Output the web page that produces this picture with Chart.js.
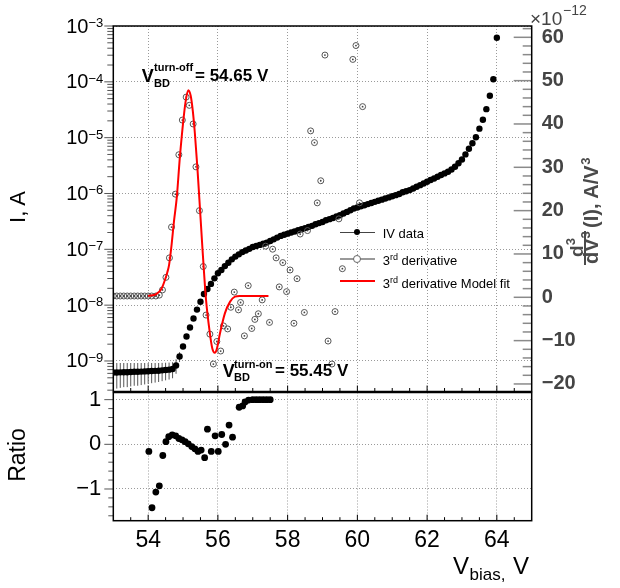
<!DOCTYPE html>
<html><head><meta charset="utf-8">
<script src="https://cdn.jsdelivr.net/npm/chart.js@4.4.1/dist/chart.umd.min.js"></script>
<style>
html,body{margin:0;padding:0;background:#fff;}
#wrap{position:relative;width:620px;height:588px;overflow:hidden;font-family:"Liberation Sans",Arial,sans-serif;color:#000;}
canvas{position:absolute;left:0;top:0;}
.t{position:absolute;white-space:nowrap;line-height:1;}
.b{font-weight:bold;}
.ln{position:absolute;}
</style></head><body>
<div id="wrap">
<canvas id="topc" width="620" height="588"></canvas>
<canvas id="botc" width="620" height="588"></canvas>

<!-- annotations -->
<div class="t b" style="left:141.7px;top:66.5px;font-size:18px">V</div>
<div class="t b" style="left:154px;top:62.4px;font-size:11px">turn-off</div>
<div class="t b" style="left:154px;top:78px;font-size:11px">BD</div>
<div class="t b" style="left:195px;top:67.3px;font-size:17px">= 54.65 V</div>

<div class="t b" style="left:222.7px;top:361.5px;font-size:18px">V</div>
<div class="t b" style="left:234px;top:358.7px;font-size:11px">turn-on</div>
<div class="t b" style="left:234px;top:372.4px;font-size:11px">BD</div>
<div class="t b" style="left:275px;top:362.3px;font-size:17px">= 55.45 V</div>

<!-- legend -->
<div class="ln" style="left:340px;top:231.5px;width:35px;height:1.5px;background:#444"></div>
<div class="ln" style="left:354.1px;top:229.1px;width:6.4px;height:6.4px;border-radius:50%;background:#000"></div>
<div class="t" style="left:382.7px;top:226.7px;font-size:13px">IV data</div>
<div class="ln" style="left:340px;top:258.3px;width:35px;height:1.5px;background:#999"></div>
<div class="ln" style="left:353.3px;top:255px;width:6px;height:6px;border:1px solid #666;border-radius:50%;background:#fff"></div>
<div class="t" style="left:382.7px;top:254px;font-size:13px">3<span style="font-size:9px;position:relative;top:-5px">rd</span> derivative</div>
<div class="ln" style="left:340px;top:280px;width:35px;height:2px;background:#f00"></div>
<div class="t" style="left:382.7px;top:277px;font-size:13px">3<span style="font-size:9px;position:relative;top:-5px">rd</span> derivative Model fit</div>

<!-- axis titles -->
<div class="t" style="left:-32px;top:194px;width:100px;height:26px;line-height:26px;text-align:center;font-size:22px;transform:rotate(-90deg)">I, A</div>
<div class="t" style="left:-33px;top:442px;width:100px;height:26px;line-height:26px;text-align:center;font-size:23px;transform:rotate(-90deg)">Ratio</div>
<div class="t" style="left:453px;top:554px;font-size:24px">V</div>
<div class="t" style="left:469.5px;top:565.6px;font-size:17px">bias,</div>
<div class="t" style="left:513px;top:554px;font-size:24px">V</div>

<div class="t" style="left:530px;top:8.9px;font-size:19px;color:#444">×10</div>
<div class="t" style="left:563px;top:3.4px;font-size:14px;color:#444">−12</div>

<div style="position:absolute;left:560px;top:265px;width:0;height:0;transform:rotate(-90deg);transform-origin:0 0;color:#4a4a4a;font-weight:bold;">
  <span class="t" style="left:8px;top:7px;font-size:19px">d</span>
  <span class="t" style="left:19.7px;top:4px;font-size:13px">3</span>
  <span class="ln" style="left:0px;top:24.2px;width:34px;height:1.8px;background:#4a4a4a"></span>
  <span class="t" style="left:1px;top:21.1px;font-size:20px">dV</span>
  <span class="t" style="left:26.6px;top:19px;font-size:13px">3</span>
  <span class="t" style="left:37px;top:21.1px;font-size:20px">(I), A/V</span>
  <span class="t" style="left:100.3px;top:19px;font-size:13px">3</span>
</div>
</div>

<script>
// ---------------- data ----------------
const ivV = [53.0,53.1,53.2,53.3,53.4,53.5,53.6,53.7,53.8,53.9,
  54.0,54.1,54.2,54.3,54.4,54.5,54.6,54.7,54.8,54.9,
  55.0,55.1,55.2,55.3,55.4,55.5,55.6,55.7,55.8,55.9,
  56.0,56.1,56.2,56.3,56.4,56.5,56.6,56.7,56.8,56.9,
  57.0,57.1,57.2,57.3,57.4,57.5,57.6,57.7,57.8,57.9,
  58.0,58.1,58.2,58.3,58.4,58.5,58.6,58.7,58.8,58.9,
  59.0,59.1,59.2,59.3,59.4,59.5,59.6,59.7,59.8,59.9,
  60.0,60.1,60.2,60.3,60.4,60.5,60.6,60.7,60.8,60.9,
  61.0,61.1,61.2,61.3,61.4,61.5,61.6,61.7,61.8,61.9,
  62.0,62.1,62.2,62.3,62.4,62.5,62.6,62.7,62.8,62.9,
  63.0,63.1,63.2,63.3,63.4,63.5,63.6,63.7,63.8,63.9,64.0];
const ivI = [6.20e-10,6.20e-10,6.25e-10,6.30e-10,6.30e-10,6.35e-10,6.40e-10,6.40e-10,6.45e-10,6.50e-10,
  6.55e-10,6.60e-10,6.65e-10,6.70e-10,6.80e-10,6.90e-10,7.00e-10,7.20e-10,8.30e-10,1.20e-9,
  1.82e-9,2.75e-9,3.98e-9,5.75e-9,8.32e-9,1.15e-8,1.58e-8,1.95e-8,2.40e-8,3.02e-8,
  3.72e-8,4.27e-8,5.01e-8,5.75e-8,6.61e-8,7.41e-8,8.13e-8,8.91e-8,9.55e-8,1.02e-7,
  1.10e-7,1.15e-7,1.20e-7,1.26e-7,1.32e-7,1.41e-7,1.51e-7,1.62e-7,1.74e-7,1.82e-7,
  1.91e-7,2.00e-7,2.09e-7,2.19e-7,2.29e-7,2.40e-7,2.51e-7,2.63e-7,2.82e-7,2.95e-7,
  3.09e-7,3.31e-7,3.47e-7,3.63e-7,3.89e-7,4.07e-7,4.37e-7,4.68e-7,5.01e-7,5.37e-7,
  5.62e-7,5.89e-7,6.17e-7,6.46e-7,6.76e-7,7.08e-7,7.41e-7,7.76e-7,8.13e-7,8.51e-7,
  8.91e-7,9.33e-7,9.77e-7,1.05e-6,1.10e-6,1.15e-6,1.23e-6,1.32e-6,1.41e-6,1.51e-6,
  1.62e-6,1.74e-6,1.86e-6,2.00e-6,2.14e-6,2.29e-6,2.45e-6,2.69e-6,3.02e-6,3.47e-6,
  4.07e-6,5.01e-6,6.31e-6,7.94e-6,1.02e-5,1.45e-5,2.09e-5,3.24e-5,5.62e-5,1.11e-4,6.17e-4];
const ivErr = [3.0e-10,3.0e-10,2.95e-10,2.9e-10,2.9e-10,2.85e-10,2.8e-10,2.8e-10,2.75e-10,2.7e-10,
  2.65e-10,2.6e-10,2.55e-10,2.5e-10,2.45e-10,2.4e-10,2.35e-10,2.3e-10,2.4e-10,2.4e-10];

const d3V = [53.0,53.1,53.2,53.3,53.4,53.5,53.6,53.7,53.8,53.9,54.0,54.1,
  54.22,54.32,54.41,54.51,54.61,54.67,54.78,54.88,54.98,55.09,
  55.18,55.29,55.37,55.47,55.58,55.66,55.77,55.87,55.97,56.08,
  56.16,56.28,56.37,56.47,56.59,56.65,56.76,56.87,56.97,57.06,
  57.16,57.27,57.37,57.48,57.57,57.67,57.76,57.86,57.97,58.07,
  58.18,58.27,58.36,58.48,58.57,58.66,58.77,58.85,58.95,59.07,
  59.16,59.27,59.36,59.47,59.57,59.87,59.96,60.06,60.15];
const d3Val = [0.3,0.3,0.3,0.3,0.3,0.3,0.3,0.3,0.3,0.3,0.3,0.3,
  0.3,0.5,1.7,4.6,9.1,16.2,23.8,32.9,40.9,46.2,
  44.3,40.0,30.1,20.0,7.1,-4.1,-8.5,-15.4,-10.2,-12.4,
  -6.6,-7.3,-2.3,1.2,-2.9,-1.2,-8.9,2.7,-7.2,-5.1,
  -3.8,-0.6,11.8,-5.8,11.1,9.1,2.4,8.0,1.3,6.3,
  -6.0,4.3,14.6,-3.5,15.4,38.4,35.7,21.8,26.9,55.9,
  -10.1,-15.4,-3.3,18.1,6.6,54.9,58.1,21.8,44.0];

const fitV = [54.00,54.24,54.39,54.48,54.55,54.60,54.67,54.74,54.82,54.91,55.01,55.08,55.15,55.22,55.28,55.34,55.41,55.47,55.56,55.66,55.77,55.84,55.91,55.97,56.06,56.20,56.35,56.49,56.63,57.45];
const fitVal = [0.3,0.8,2.1,4.0,5.8,7.5,12.0,17.5,23.0,32.4,40.9,45.5,47.8,46.5,43.0,37.8,30.1,22.5,10.9,-0.6,-8.3,-11.8,-12.8,-11.9,-8.3,-3.7,-1.0,0.15,0.3,0.3];

const ratioV = [54.02,54.11,54.22,54.32,54.42,54.51,54.59,54.69,54.79,54.88,54.97,55.06,55.15,55.25,55.34,55.43,55.52,55.62,55.70,55.81,55.92,56.01,56.11,56.22,56.32,56.42,56.61,56.71,56.78,56.88,57.0,57.1,57.2,57.3,57.4,57.5];
const ratioVal = [-0.16,-1.42,-1.07,-0.93,-0.25,0.06,0.17,0.21,0.19,0.13,0.10,0.06,0.01,-0.05,-0.10,-0.16,-0.13,-0.30,0.34,-0.16,0.19,-0.16,0.22,0.0,0.43,0.16,0.83,0.86,0.95,0.99,1.0,1.0,1.0,1.0,1.0,1.0];

// tick values / labels
const xMajorTicks = [54,56,58,60,62,64];
const xMinorTicks = [53.5,54.5,55,55.5,56.5,57,57.5,58.5,59,59.5,60.5,61,61.5,62.5,63,63.5,64.5];
const logExps = [-9,-8,-7,-6,-5,-4,-3];
const d3MajorTicks = [-20,-10,0,10,20,30,40,50,60];
const d3MinorTicks = [-18,-16,-14,-12,-8,-6,-4,-2,2,4,6,8,12,14,16,18,22,24,26,28,32,34,36,38,42,44,46,48,52,54,56,58,62];
const ratioMajorTicks = [-1,0,1];
const ratioMinorTicks = [-1.6,-1.4,-1.2,-0.8,-0.6,-0.4,-0.2,0.2,0.4,0.6,0.8];

// ---------------- helpers ----------------
const FONT = '"Liberation Sans", Arial, sans-serif';
Chart.defaults.font.family = FONT;
const GRID = '#9a9a9a';
const minus = v => (v < 0 ? '\u2212' + Math.abs(v) : String(v));
function seg(ctx,x1,y1,x2,y2){ctx.beginPath();ctx.moveTo(x1,y1);ctx.lineTo(x2,y2);ctx.stroke();}
function xy(xa, ya){ return xa.map((v,i)=>({x:v,y:ya[i]})); }
function setTicks(vals){ return s => { s.ticks = vals.map(v=>({value:v})); }; }

const topDecor = {
  id:'topDecor',
  beforeDatasetsDraw(chart){
    const ctx=chart.ctx, xs=chart.scales.x, ys=chart.scales.y, a=chart.chartArea;
    ctx.save();
    ctx.beginPath(); ctx.rect(a.left,a.top,a.right-a.left,a.bottom-a.top); ctx.clip();
    ctx.strokeStyle='#555'; ctx.lineWidth=1;
    ivErr.forEach((e,i)=>{
      const x=xs.getPixelForValue(ivV[i]);
      const hi=ys.getPixelForValue(ivI[i]+e);
      const lo=ys.getPixelForValue(Math.max(ivI[i]-e,1e-12));
      seg(ctx,x,hi,x,lo);
    });
    ctx.restore();
  },
  afterDraw(chart){
    const ctx=chart.ctx, xs=chart.scales.x, ys=chart.scales.y, y2=chart.scales.y2, a=chart.chartArea;
    ctx.save();
    ctx.strokeStyle='#000'; ctx.lineWidth=1;
    xMajorTicks.forEach(v=>{const x=xs.getPixelForValue(v); seg(ctx,x,a.bottom,x,a.bottom-6);});
    xMinorTicks.forEach(v=>{const x=xs.getPixelForValue(v); seg(ctx,x,a.bottom,x,a.bottom-3.5);});
    ctx.strokeStyle='#555';
    logExps.forEach(e=>{const y=ys.getPixelForValue(Math.pow(10,e)); seg(ctx,a.left-9,y,a.left,y);});
    for(let e=-10;e<=-4;e++){ for(let m=2;m<=9;m++){ const v=m*Math.pow(10,e); if(v<ys.min||v>ys.max) continue; const y=ys.getPixelForValue(v); seg(ctx,a.left-6,y,a.left,y);} }
    ctx.strokeStyle='#8a8a8a'; ctx.lineWidth=1.5;
    d3MajorTicks.forEach(v=>{const y=y2.getPixelForValue(v); seg(ctx,a.right-18,y,a.right,y);});
    d3MinorTicks.forEach(v=>{const y=y2.getPixelForValue(v); seg(ctx,a.right-9,y,a.right,y);});
    ctx.strokeStyle='#000'; ctx.lineWidth=1.5;
    ctx.strokeRect(a.left,a.top,a.right-a.left,a.bottom-a.top);
    const big='20px '+FONT, small='13px '+FONT;
    ctx.fillStyle='#000'; ctx.textAlign='left'; ctx.textBaseline='alphabetic';
    logExps.forEach(e=>{
      const y=ys.getPixelForValue(Math.pow(10,e));
      const es='\u2212'+Math.abs(e);
      ctx.font=small; const we=ctx.measureText(es).width;
      ctx.font=big; const wb=ctx.measureText('10').width;
      const xr=a.left-10;
      ctx.font=small; ctx.fillText(es,xr-we,y+1);
      ctx.font=big; ctx.fillText('10',xr-we-wb,y+6.5);
    });
    ctx.restore();
  }
};

const botDecor = {
  id:'botDecor',
  afterDraw(chart){
    const ctx=chart.ctx, xs=chart.scales.x, ys=chart.scales.y, a=chart.chartArea;
    ctx.save();
    ctx.strokeStyle='#000'; ctx.lineWidth=1;
    xMajorTicks.forEach(v=>{const x=xs.getPixelForValue(v); seg(ctx,x,a.bottom,x,a.bottom-6);});
    xMinorTicks.forEach(v=>{const x=xs.getPixelForValue(v); seg(ctx,x,a.bottom,x,a.bottom-3.5);});
    ctx.strokeStyle='#555';
    ratioMajorTicks.forEach(v=>{const y=ys.getPixelForValue(v); seg(ctx,a.left-9,y,a.left,y);});
    ratioMinorTicks.forEach(v=>{const y=ys.getPixelForValue(v); seg(ctx,a.left-5,y,a.left,y);});
    ctx.strokeStyle='#000'; ctx.lineWidth=1.5;
    ctx.strokeRect(a.left,a.top,a.right-a.left,a.bottom-a.top);
    ctx.restore();
  }
};

const gridOpt = {color:GRID, lineWidth:1, drawTicks:false};
const borderOpt = {display:false, dash:[1,2]};

new Chart(document.getElementById('topc'), {
  type:'scatter',
  data:{datasets:[
    {data:xy(fitV,fitVal), yAxisID:'y2', showLine:true, borderColor:'#ff0000', borderWidth:2, pointRadius:0, cubicInterpolationMode:'monotone', fill:false},
    {data:xy(d3V,d3Val), yAxisID:'y2', pointRadius:0.9, pointBackgroundColor:'#444', pointBorderWidth:0},
    {data:xy(d3V,d3Val), yAxisID:'y2', pointRadius:3, pointBorderColor:'#555', pointBackgroundColor:'rgba(0,0,0,0)', pointBorderWidth:1},
    {data:xy(ivV,ivI), yAxisID:'y', pointRadius:3.2, pointBackgroundColor:'#000', pointBorderWidth:0}
  ]},
  options:{
    responsive:false, animation:false, devicePixelRatio:1, events:[],
    layout:{padding:{top:26,bottom:196.5,left:0,right:0}, autoPadding:false},
    plugins:{legend:{display:false}, tooltip:{enabled:false}},
    scales:{
      x:{type:'linear', min:53, max:65, afterBuildTicks:setTicks(xMajorTicks), afterFit:s=>{s.height=0;},
         ticks:{display:false}, grid:gridOpt, border:borderOpt},
      y:{type:'logarithmic', position:'left', min:2.84e-10, max:1e-3,
         afterBuildTicks:setTicks(logExps.map(e=>Math.pow(10,e))), afterFit:s=>{s.width=113.3;},
         ticks:{display:false}, grid:gridOpt, border:borderOpt},
      y2:{type:'linear', position:'right', min:-21.74, max:62.61,
         afterBuildTicks:setTicks(d3MajorTicks), afterFit:s=>{s.width=88.3;},
         ticks:{font:{size:20, weight:'bold'}, color:'#444', padding:2, callback:minus, autoSkip:false},
         grid:{display:false}, border:{display:false}}
    }
  },
  plugins:[topDecor]
});

new Chart(document.getElementById('botc'), {
  type:'scatter',
  data:{datasets:[
    {data:xy(ratioV,ratioVal), pointRadius:3.4, pointBackgroundColor:'#000', pointBorderWidth:0}
  ]},
  options:{
    responsive:false, animation:false, devicePixelRatio:1, events:[],
    layout:{padding:{top:392.5,bottom:0,left:0,right:88.3}, autoPadding:false},
    plugins:{legend:{display:false}, tooltip:{enabled:false}},
    scales:{
      x:{type:'linear', min:53, max:65, afterBuildTicks:setTicks(xMajorTicks), afterFit:s=>{s.height=67.3;},
         ticks:{font:{size:23}, color:'#000', padding:6, maxRotation:0, autoSkip:false, callback:v=>String(v)},
         grid:gridOpt, border:borderOpt},
      y:{type:'linear', min:-1.71, max:1.16, afterBuildTicks:setTicks(ratioMajorTicks), afterFit:s=>{s.width=113.3;},
         ticks:{font:{size:22}, color:'#000', padding:12, callback:minus, autoSkip:false},
         grid:gridOpt, border:borderOpt}
    }
  },
  plugins:[botDecor]
});
</script>
</body></html>
